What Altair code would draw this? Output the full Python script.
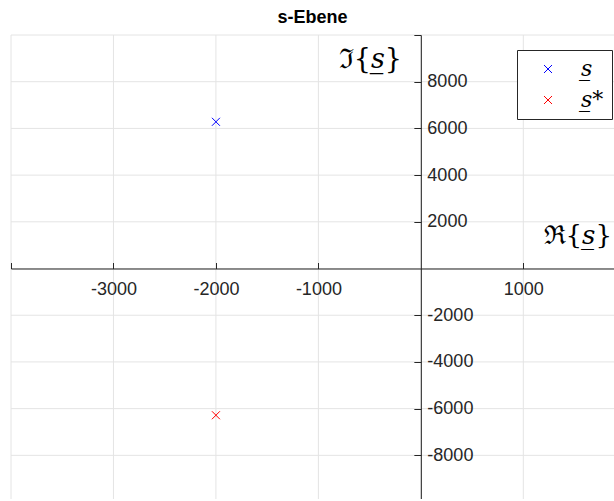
import altair as alt
import pandas as pd

# ---- data ----
real_parts = [-2000, -2000]
imag_parts = [6283, -6283]
series = ["s\u0332", "s\u0332*"]
colors = ["#0000ff", "#ff0000"]

x_grid = [-4000, -3000, -2000, -1000, 0, 1000]
y_grid = [-8000, -6000, -4000, -2000, 0, 2000, 4000, 6000, 8000, 10000]
x_domain = [-4000, 1885]
y_domain = [-9870, 10000]

title_text = "s-Ebene"
im_label = "\u2111{\U0001D460\u0332}"
re_label = "\u211C{\U0001D460\u0332}"

# ---- layout ----
W, H = 603, 464
x0_px = (0 - x_domain[0]) / (x_domain[1] - x_domain[0]) * W
y0_px = (y_domain[1] - 0) / (y_domain[1] - y_domain[0]) * H

x_ticks = [v for v in x_grid if v != 0]
y_ticks = [v for v in y_grid if v != 0]

AX = "#262626"
GRID = "#e4e4e4"
CROSS = "M-1,-1L1,1M-1,1L1,-1"

xs = alt.Scale(domain=x_domain, nice=False, zero=False)
ys = alt.Scale(domain=y_domain, nice=False, zero=False)

x_axis = alt.Axis(
    orient="top", offset=-y0_px, values=x_ticks,
    labelExpr=f"datum.value <= {x_domain[0]} ? '' : '' + datum.value",
    grid=False, domainColor=AX, domainWidth=1, tickColor=AX, tickWidth=1, tickSize=6,
    labelFont="Liberation Sans", labelFontSize=18, labelColor=AX,
    labelBaseline="alphabetic", labelAlign="center", labelPadding=-32,
    labelOverlap=False, labelFlush=False, title="", zindex=1,
)
y_axis = alt.Axis(
    orient="left", offset=-x0_px, values=y_ticks,
    labelExpr=f"datum.value >= {y_domain[1]} ? '' : '' + datum.value",
    grid=False, domainColor=AX, domainWidth=1, tickColor=AX, tickWidth=1, tickSize=7,
    labelFont="Liberation Sans", labelFontSize=18, labelColor=AX,
    labelBaseline="middle", labelAlign="left", labelPadding=-13,
    labelOverlap=False, labelFlush=False, title="", zindex=1,
)

df = pd.DataFrame({"re": real_parts, "im": imag_parts, "name": series})

vgrid = alt.Chart(pd.DataFrame({"gx": x_grid})).mark_rule(color=GRID, strokeWidth=1).encode(
    x=alt.X("gx:Q", scale=xs, axis=x_axis)
)
hgrid = alt.Chart(pd.DataFrame({"gy": y_grid})).mark_rule(color=GRID, strokeWidth=1).encode(
    y=alt.Y("gy:Q", scale=ys, axis=y_axis)
)

pts = alt.Chart(df).mark_point(
    shape=CROSS, filled=False, size=64, strokeWidth=1, opacity=1
).encode(
    x=alt.X("re:Q", scale=xs, axis=x_axis),
    y=alt.Y("im:Q", scale=ys, axis=y_axis),
    color=alt.Color(
        "name:N",
        scale=alt.Scale(domain=series, range=colors),
        legend=alt.Legend(
            title=None, orient="none", legendX=506, legendY=15, direction="vertical",
            strokeColor=AX, fillColor="white", padding=8, cornerRadius=0,
            symbolType=CROSS, symbolSize=64, symbolStrokeWidth=1, symbolOffset=12,
            labelOffset=22, labelFont="DejaVu Serif", labelFontStyle="italic",
            labelFontSize=22, labelColor="black", rowPadding=9,
        ),
    ),
)

im_text = alt.Chart(pd.DataFrame({"t": [im_label]})).mark_text(
    font="DejaVu Serif", fontSize=27, align="right", baseline="middle", color="black"
).encode(text="t:N", x=alt.value(391), y=alt.value(25))

re_text = alt.Chart(pd.DataFrame({"t": [re_label]})).mark_text(
    font="DejaVu Serif", fontSize=26, align="right", baseline="middle", color="black"
).encode(text="t:N", x=alt.value(601), y=alt.value(201))

chart = alt.layer(vgrid, hgrid, pts, im_text, re_text).properties(
    width=W, height=H,
    title=alt.TitleParams(title_text, font="Liberation Sans", fontSize=18, fontWeight="bold",
                          color="black", anchor="middle", offset=11, dy=12),
    autosize=alt.AutoSizeParams(type="none"),
    padding={"left": 11, "top": 35, "right": 0, "bottom": 0},
    background="white",
).configure_view(stroke=None)

chart.save("out.html", embed_options={"renderer": "svg", "actions": False})
